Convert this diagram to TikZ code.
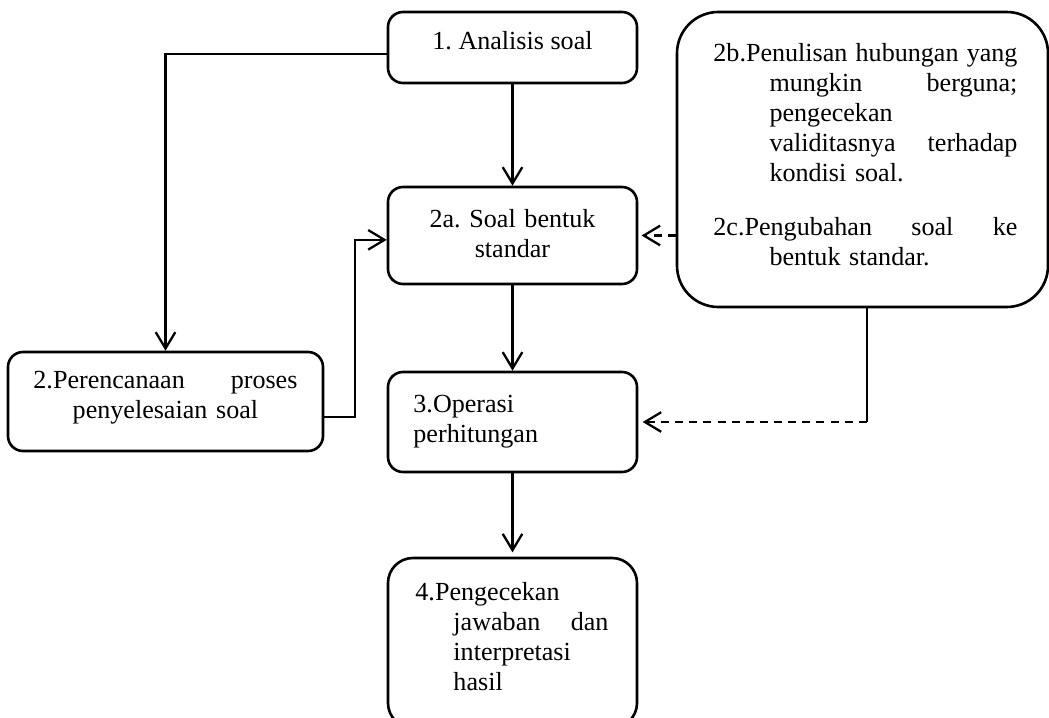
\documentclass[tikz,border=0pt]{standalone}
\usepackage{fontspec}
\setmainfont{Liberation Serif}
\usetikzlibrary{calc, positioning}
\usetikzlibrary{arrows.meta}
\frenchspacing

\newcommand{\fullj}[1]{\makebox[\linewidth][s]{#1}}
\newcommand{\indj}[2]{\hspace*{#1}\makebox[\dimexpr\linewidth-#1\relax][s]{#2}}
\newcommand{\indl}[2]{\hspace*{#1}#2}

\begin{document}
\begin{tikzpicture}[x=0.46pt,y=-0.46pt,
  font=\fontsize{12}{13.8}\selectfont,
  stepbox/.style={draw, line width=1.2pt, rounded corners=6.9pt, inner sep=0pt},
  txt/.style={inner sep=0pt, anchor=base west},
  link/.style={line width=1.05pt},
  arr/.style={link, -{Straight Barb[length=7.5pt,width=9pt]}},
  dash arr/.style={arr, dash pattern=on 3.7pt off 2.8pt}]
\def\px{0.46pt}
\def\hg{25.8pt}
\useasboundingbox (0,0) rectangle (1049,717);

% boxes
\node[stepbox, minimum width=249*\px, minimum height=71*\px] (analisis) at (512.5,47.5) {};
\node[stepbox, minimum width=249*\px, minimum height=97*\px] (standar) at (512.5,235.5) {};
\node[stepbox, minimum width=315*\px, minimum height=99*\px] (rencana) at (165.5,401.5) {};
\node[stepbox, minimum width=249*\px, minimum height=100*\px] (operasi) at (512.5,422) {};
\node[stepbox, rounded corners=11.5pt, minimum width=249*\px, minimum height=170*\px] (cek) at (512.5,643) {};
\node[stepbox, rounded corners=19pt, minimum width=371*\px, minimum height=295*\px] (tulis) at (862.5,159.5) {};

% texts
\node[txt, anchor=base] (analisis-t) at (512.5,50) {1. Analisis soal};
\node[txt, anchor=base, text width=249*\px, align=center] (standar-t) at (512.5,228) {2a. Soal bentuk\\standar};
\node[txt, text width=264*\px] (rencana-t) at (33,388)
  {\fullj{2.Perencanaan\hfill proses}\\\makebox[\linewidth]{penyelesaian soal}};
\node[txt, text width=200*\px] (operasi-t) at (413,412) {3.Operasi\\perhitungan};
\node[txt, text width=193*\px] (cek-t) at (415,600)
  {4.Pengecekan\\\indj{17.5pt}{jawaban\hfill dan}\\\indl{17.5pt}{interpretasi}\\\indl{17.5pt}{hasil}};
\node[txt, text width=304*\px] (tulis-t) at (713,62)
  {\fullj{2b.Penulisan\hfill hubungan\hfill yang}\\\indj{\hg}{mungkin\hfill berguna;}\\\indl{\hg}{pengecekan}\\\indj{\hg}{validitasnya\hfill terhadap}\\\indl{\hg}{kondisi soal.}\\[11pt]\fullj{2c.Pengubahan\hfill soal\hfill ke}\\\indl{\hg}{bentuk standar.}};

% connectors
\draw[arr] (analisis) -- (standar);
\draw[arr] (standar) -- (operasi);
\draw[arr, shorten >=2pt] (operasi) -- (cek);
\draw[arr] ([yshift=-3pt]analisis.west) -| (rencana.north);
\draw[arr] ([yshift=-7pt]rencana.east) -- ++(31,0) |- ([yshift=-2pt]standar.west);
\draw[dash arr, shorten >=1.5pt] (standar.east -| tulis.west) -- (standar.east);

\coordinate (tulisbot) at ([xshift=2pt]tulis.south);
\coordinate (knee) at (tulisbot |- operasi.east);
\draw[link] (tulisbot) -- (knee);
\draw[dash arr, shorten >=2pt] (knee) -- (operasi.east);
\end{tikzpicture}
\end{document}
